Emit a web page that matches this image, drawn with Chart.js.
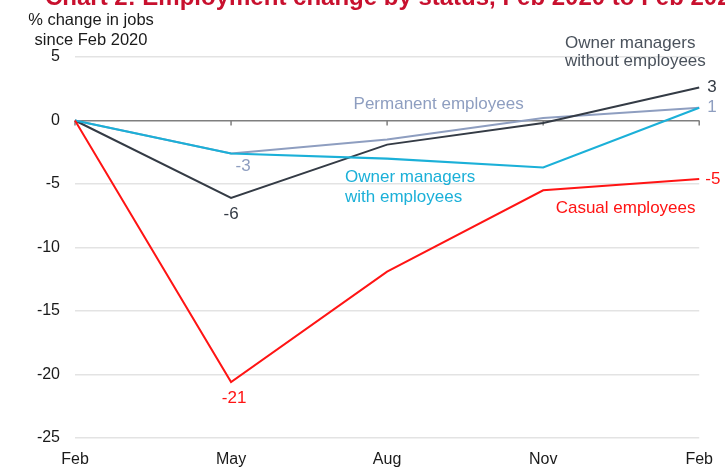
<!DOCTYPE html>
<html>
<head>
<meta charset="utf-8">
<script src="https://cdn.jsdelivr.net/npm/chart.js@4.4.1/dist/chart.umd.min.js"></script>
<style>
  html, body { margin: 0; padding: 0; background: #fff; }
</style>
</head>
<body>
<canvas id="chart" width="725" height="468"></canvas>
<script>
const months = ['Feb', 'May', 'Aug', 'Nov', 'Feb'];
const casual = [0, -20.6, -11.9, -5.5, -4.6];
const ownerNoEmp = [0, -6.1, -1.9, -0.2, 2.6];
const permanent = [0, -2.6, -1.5, 0.2, 1.0];
const ownerWithEmp = [0, -2.6, -3.0, -3.7, 1.0];
const yTicks = [5, 0, -5, -10, -15, -20, -25];

const FONT = '"Liberation Sans", Arial, sans-serif';
const RED = '#ff1414';
const DARK = '#343b45';
const GREYBLUE = '#8e9ec0';
const CYAN = '#1bb0d8';

// text drawn on top: title, axis title, series names, end labels
const labelsPlugin = {
    id: 'labels',
    beforeDatasetsDraw(chart) {
        const ctx = chart.ctx;
        const x = chart.scales.x, y = chart.scales.y;
        const y0 = y.getPixelForValue(0);
        ctx.save();
        ctx.strokeStyle = '#7f7f7f';
        ctx.lineWidth = 1.5;
        months.forEach((m, i) => {
            const px = x.getPixelForValue(i);
            ctx.beginPath();
            ctx.moveTo(px, y0);
            ctx.lineTo(px, y0 + 5);
            ctx.stroke();
        });
        ctx.restore();
    },
    afterDatasetsDraw(chart) {
        const ctx = chart.ctx;
        const x = chart.scales.x, y = chart.scales.y;
        const px = i => x.getPixelForValue(i);
        const py = v => y.getPixelForValue(v);
        const last = months.length - 1;

        ctx.save();
        // title, partly off the top of the picture
        ctx.font = 'bold 24px ' + FONT;
        ctx.fillStyle = '#c8102e';
        ctx.textAlign = 'left';
        ctx.textBaseline = 'alphabetic';
        ctx.fillText('Chart 2: Employment change by status, Feb 2020 to Feb 2021', 45, 4.5);

        // axis title
        ctx.font = '16.5px ' + FONT;
        ctx.fillStyle = '#1a1a1a';
        ctx.textAlign = 'center';
        ctx.fillText('% change in jobs', 91, 25);
        ctx.fillText('since Feb 2020', 91, 45);

        ctx.font = '17px ' + FONT;
        ctx.textBaseline = 'middle';

        // series names
        ctx.textAlign = 'left';
        ctx.fillStyle = '#4a525c';
        ctx.fillText('Owner managers', px(3.14), 43);
        ctx.fillText('without employees', px(3.14), 61);
        ctx.fillStyle = GREYBLUE;
        ctx.fillText('Permanent employees', px(1.785), py(1.25));
        ctx.fillStyle = CYAN;
        ctx.fillText('Owner managers', px(1.73), py(-4.5));
        ctx.fillText('with employees', px(1.73), py(-6.08));
        ctx.fillStyle = RED;
        ctx.fillText('Casual employees', px(3.08), py(-6.9));

        // end values
        ctx.fillStyle = DARK;
        ctx.fillText(Math.round(ownerNoEmp[last]), px(last) + 8, py(ownerNoEmp[last]));
        ctx.fillStyle = GREYBLUE;
        ctx.fillText(Math.round(permanent[last]), px(last) + 8, py(permanent[last]));
        ctx.fillStyle = RED;
        ctx.fillText(Math.round(casual[last]), px(last) + 6, py(casual[last]));

        // May troughs
        ctx.textAlign = 'center';
        ctx.fillStyle = RED;
        ctx.fillText(Math.round(casual[1]), px(1) + 3, py(casual[1]) + 16);
        ctx.fillStyle = DARK;
        ctx.fillText(Math.round(ownerNoEmp[1]), px(1), py(ownerNoEmp[1]) + 16);
        ctx.fillStyle = GREYBLUE;
        ctx.fillText(Math.round(permanent[1]), px(1) + 12, py(permanent[1]) + 13);
        ctx.restore();
    }
};

function line(data, color, width) {
    return {
        data: data,
        borderColor: color,
        backgroundColor: color,
        borderWidth: width,
        pointRadius: 0,
        tension: 0,
        clip: false
    };
}

const ctx = document.getElementById('chart').getContext('2d');
const chart = new Chart(ctx, {
    type: 'line',
    data: {
        labels: months,
        datasets: [
            line(casual, RED, 2),
            line(ownerWithEmp, CYAN, 2.2),
            line(ownerNoEmp, DARK, 2),
            line(permanent, GREYBLUE, 2)
        ]
    },
    options: {
        responsive: false,
        animation: false,
        devicePixelRatio: 1,
        layout: {
            padding: { top: 57, right: 24, left: 0, bottom: 0 }
        },
        plugins: {
            legend: { display: false },
            tooltip: { enabled: false }
        },
        scales: {
            x: {
                offset: false,
                grid: { display: false, drawTicks: false },
                border: { display: false },
                afterFit: s => { s.height = 30; },
                ticks: {
                    color: '#1a1a1a',
                    font: { size: 16, family: FONT },
                    padding: 12,
                    maxRotation: 0,
                    autoSkip: false
                }
            },
            y: {
                min: -25,
                max: 5,
                afterBuildTicks: s => { s.ticks = yTicks.map(v => ({ value: v })); },
                afterFit: s => { s.width = 75; },
                grid: {
                    drawTicks: false,
                    color: c => c.tick.value === 0 ? '#7f7f7f' : '#e3e3e3',
                    lineWidth: 1.5
                },
                border: { display: false },
                ticks: {
                    color: '#1a1a1a',
                    font: { size: 16, family: FONT },
                    padding: 15
                }
            }
        }
    },
    plugins: [labelsPlugin]
});
</script>
</body>
</html>
